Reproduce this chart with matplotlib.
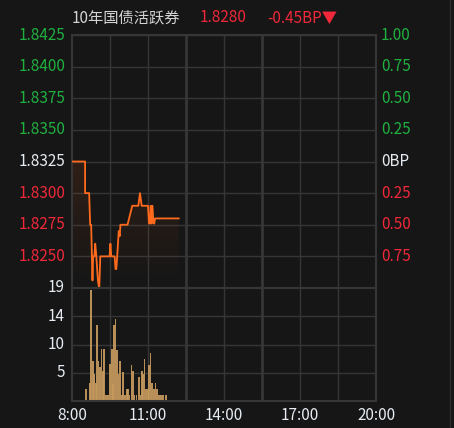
import numpy as np
import matplotlib
matplotlib.use("Agg")
import matplotlib.pyplot as plt
from matplotlib.transforms import blended_transform_factory

plt.rcParams['font.family'] = ['Noto Sans CJK SC', 'DejaVu Sans']

BG = "#161616"
GRID = "#363636"
GREEN = "#20b040"
RED = "#f0283a"
WHITE = "#e6ecf2"
ORANGE = "#ff6a1c"

# price line: minutes after 8:00 and yield
price_min = [0, 31, 31, 40.6, 43, 45.4, 48.5, 50, 53, 55, 57.4, 61.4, 64.5, 67, 89, 91, 93,
             101, 103, 105, 107, 110.7, 113, 114.7, 131.5, 142.7, 157, 161, 165, 180, 182.4,
             184.7, 186.4, 188, 190.5, 192.9, 194.8, 196.7, 252.6]
price_val = [1.8325, 1.8325, 1.8300, 1.8300, 1.8275, 1.8275, 1.8231, 1.8250, 1.8250, 1.8260,
             1.8251, 1.8231, 1.8224, 1.8250, 1.8250, 1.8260, 1.8250, 1.8250, 1.8240, 1.8240,
             1.8250, 1.8270, 1.8266, 1.8275, 1.8275, 1.8290, 1.8290, 1.8300, 1.8290, 1.8290,
             1.8276, 1.8276, 1.8290, 1.8276, 1.8290, 1.8276, 1.8276, 1.8280, 1.8280]

# volume bars: minutes after 8:00 and volume
vol_min = [33.5, 42, 45, 49, 52.6, 57, 60, 63, 67, 70, 73, 76.5, 81, 85, 90, 94, 97, 100, 103,
           106, 110, 114, 118, 121, 125.5, 130, 132.6, 136, 141, 144.6, 148, 153, 159, 162.5,
           165, 168.5, 172, 176, 180.5, 182, 186, 190, 193.6, 198, 202, 206, 210, 216, 222]
vol_val = [2, 3, 18.7, 6.7, 4.5, 3, 12.7, 6.7, 5.7, 8.8, 5, 8.8, 1, 1, 6.2, 8.8, 2.8, 12.7, 13.8,
           8.5, 4.5, 6.7, 1, 4.9, 1, 2, 2, 1, 6, 5, 1, 1, 4, 1, 5, 4.5, 7, 2, 2, 6, 8, 3, 2, 3,
           2, 1, 1, 1, 1]

price_ticks = [1.8425, 1.8400, 1.8375, 1.8350, 1.8325, 1.8300, 1.8275, 1.8250]
bp_labels = ["1.00", "0.75", "0.50", "0.25", "0BP", "0.25", "0.50", "0.75"]
vol_ticks = [19, 14.25, 9.5, 4.75]
vol_labels = ["19", "14", "10", "5"]
time_labels = ["8:00", "11:00", "14:00", "17:00", "20:00"]
time_ticks = [8, 11, 14, 17, 20]

base = 1.8325
W, H = 454, 428
fig = plt.figure(figsize=(W / 100, H / 100), dpi=100, facecolor=BG)
L, R = 72, 376
ax = fig.add_axes([L / W, 1 - 288 / H, (R - L) / W, 253 / H], facecolor=BG)
axv = fig.add_axes([L / W, 1 - 401 / H, (R - L) / W, 113 / H], facecolor=BG)

for a in (ax, axv):
    a.set_xlim(8, 20)
    a.set_xticks([]); a.set_yticks([])
    for s in a.spines.values():
        s.set_color(GRID); s.set_linewidth(1.5)
    for i, x in enumerate(np.arange(8, 20.01, 1.5)[1:-1]):
        lw = 2.0 if i in (2, 4) else 1.0
        a.axvline(x, color=GRID, lw=lw, zorder=0)

ax.set_ylim(1.8225, 1.8425)
for y in np.arange(1.8250, 1.8425, 0.0025):
    ax.axhline(y, color=GRID, lw=1, zorder=0)
axv.set_ylim(0, 19)
for y in vol_ticks[1:]:
    axv.axhline(y, color=GRID, lw=1, zorder=0)

tx = np.array([8 + m / 60 for m in price_min])
py = np.array(price_val)

# gradient fill under the price line
poly = ax.fill_between(tx, py, 1.8225, color="none", lw=0)
grad = np.linspace(0, 1, 100).reshape(-1, 1)
cmap = matplotlib.colors.LinearSegmentedColormap.from_list(
    "g", [(1, 0.42, 0.11, 0.0), (1, 0.42, 0.11, 0.11)])
im = ax.imshow(grad, cmap=cmap, origin="lower", aspect="auto",
               extent=[8, 20, 1.8225, py.max()], zorder=1)
im.set_clip_path(poly.get_paths()[0], transform=ax.transData)
ax.set_ylim(1.8225, 1.8425)
ax.plot(tx, py, color=ORANGE, lw=1.3, zorder=3)

vx = [8 + m / 60 for m in vol_min]
axv.bar(vx, vol_val, width=4 / 60, color="#c79a5e", alpha=0.92, lw=0, zorder=2)

fs = 11
ty = blended_transform_factory(ax.transAxes, ax.transData)
for v, bl in zip(price_ticks, bp_labels):
    c = GREEN if v > base + 1e-9 else (WHITE if abs(v - base) < 1e-9 else RED)
    ax.text(-0.023, v, f"{v:.4f}", color=c, fontsize=fs, ha="right", va="center", transform=ty)
    ax.text(1.016, v, bl, color=c, fontsize=fs, ha="left", va="center", transform=ty)

tv = blended_transform_factory(axv.transAxes, axv.transData)
for v, lab in zip(vol_ticks, vol_labels):
    axv.text(-0.023, v, lab, color=WHITE, fontsize=fs, ha="right", va="center", transform=tv)

tt = blended_transform_factory(axv.transData, axv.transAxes)
for t, lab in zip(time_ticks, time_labels):
    axv.text(t, -0.125, lab, color=WHITE, fontsize=fs, ha="center", va="center", transform=tt)

fig.text(72 / W, 1 - 18 / H, "10年国债活跃券", color="#d4d4d4", fontsize=fs, va="center")
fig.text(200 / W, 1 - 18 / H, "1.8280", color=RED, fontsize=fs, va="center")
fig.text(267 / W, 1 - 18 / H, "-0.45BP▼", color=RED, fontsize=fs, va="center")

fig.add_artist(plt.Line2D([449.5 / W] * 2, [0, 1], color="#2c2c2c", lw=1))

fig.savefig("out.png", dpi=100, facecolor=BG)
